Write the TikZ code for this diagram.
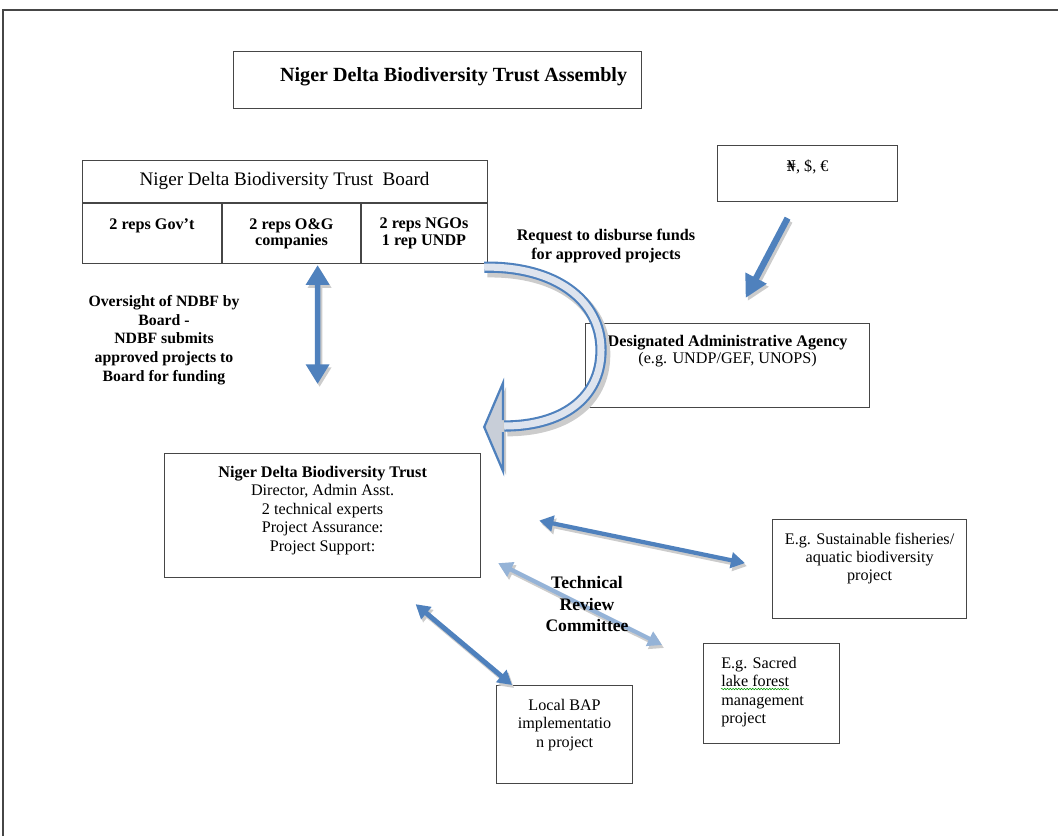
\documentclass[tikz,border=0pt]{standalone}
\usepackage{fontspec}
\setmainfont{Liberation Serif}
\newfontfamily\nairafont{DejaVu Serif}
\usetikzlibrary{arrows.meta,positioning,calc,decorations.pathmorphing}

\definecolor{arrowblue}{RGB}{79,129,189}
\definecolor{lightblue}{RGB}{149,179,215}
\definecolor{bandfill}{RGB}{222,228,238}
\definecolor{headfill}{RGB}{200,206,216}
\definecolor{boxline}{RGB}{70,70,70}
\newcommand\fsz[2]{\fontsize{#1}{#2}\selectfont}

\begin{document}
\begin{tikzpicture}[x=0.025cm,y=-0.025cm,
	box/.style={draw=boxline,line width=0.8pt,inner sep=0pt,rectangle,anchor=north west},
	txt/.style={align=center,inner sep=0pt,font=\fsz{11.5}{13.1}},
	btxt/.style={txt,font=\fsz{11.2}{13.3}\bfseries},
	dbl/.style={draw=arrowblue,line width=3pt,{Triangle[length=10pt,width=11pt]}-{Triangle[length=10pt,width=11pt]}},
	vdbl/.style={dbl,line width=4pt,{Triangle[length=14pt,width=16pt]}-{Triangle[length=14pt,width=16pt]}},
	lightdbl/.style={dbl,draw=lightblue},
	arrshadow/.style={draw=black!20,transform canvas={shift={(2,3)}}}]
	\useasboundingbox (0,0) rectangle (1058,836);
	% page frame
	\draw[boxline,line width=1.3pt] (3,836) -- (3,10) -- (1058,10);

	% boxes
	\node[box,minimum width=10.2cm,minimum height=1.425cm] (assembly) at (233,51) {};
	\node[btxt,font=\fsz{14.3}{16}\bfseries,below=0.4cm of assembly.north,xshift=0.4cm] (assemblyt) {Niger Delta Biodiversity Trust Assembly};

	\node[box,minimum width=10.125cm,minimum height=2.575cm] (board) at (82,160) {};
	\draw[boxline,line width=0.8pt] (82,203) -- (487,203);
	\draw[boxline,line width=0.8pt] (222,203) -- (222,263);
	\draw[boxline,line width=0.8pt] (361,203) -- (361,263);
	\node[txt,font=\fsz{13.6}{15}] (boardt) at (284.5,181) {Niger Delta Biodiversity Trust\ \ Board};
	\node[btxt,font=\fsz{11.5}{11.8}\bfseries,anchor=north] (gov) at (152,218) {2 reps Gov't};
	\node[btxt,font=\fsz{11.5}{11.8}\bfseries,anchor=north] (oag) at (291.5,218) {2 reps O\&G\\companies};
	\node[btxt,font=\fsz{11.5}{11.8}\bfseries,anchor=north] (ngo) at (424,218) {2 reps NGOs\\1 rep UNDP};

	\node[box,minimum width=4.5cm,minimum height=1.4cm] (money) at (717,145) {};
	\node[txt,below=0.375cm of money.north] (moneyt) {{\nairafont\fontsize{10.5}{12}\selectfont ₦}, \$, €};

	\node[box,minimum width=7.1cm,minimum height=2.1cm] (agency) at (585,323) {};
	\node[txt,font=\fsz{11.5}{12.2},below=0.3cm of agency.north] (agencyt) {\textbf{Designated Administrative Agency}\\(e.g. UNDP/GEF, UNOPS)};

	\node[box,minimum width=7.9cm,minimum height=3.1cm] (trust) at (164,453) {};
	\node[txt,below=0.325cm of trust.north] (trustt) {\textbf{Niger Delta Biodiversity Trust}\\Director, Admin Asst.\\2 technical experts\\Project Assurance:\\Project Support:};

	\node[box,minimum width=4.85cm,minimum height=2.475cm] (fish) at (772,519) {};
	\node[txt,font=\fsz{11.5}{12.8},below=0.35cm of fish.north] (fisht) {E.g. Sustainable fisheries/\\aquatic biodiversity\\project};

	\node[box,minimum width=3.4cm,minimum height=2.5cm] (sacred) at (703,643) {};
	\node[txt,align=left,font=\fsz{11.5}{13},below right=0.35cm and 0.45cm of sacred.north west] (sacredt) {E.g. Sacred\\lake forest\\management\\project};
	\draw[green!60!black,line width=0.4pt,decorate,decoration={snake,amplitude=0.5pt,segment length=2pt}] (721,689) -- (789,689);

	\node[box,minimum width=3.4cm,minimum height=2.45cm] (bap) at (496,685) {};
	\node[txt,below=0.35cm of bap.north] (bapt) {Local BAP\\implementatio\\n project};

	% arrow ends
	\coordinate (ovT) at ($(board.south)+(32.5,1)$);
	\coordinate (ovB) at ($(trust.north)+(-5,-69)$);
	\coordinate (mA) at ($(money.south)+(-20,16)$);
	\coordinate (mB) at ($(agency.north)+(18,-25)$);
	\coordinate (cA) at ($(board.south east)+(-4,3)$);
	\coordinate (cB) at ($(trust.north east)+(23,-27)$);
	\coordinate (cT) at ($(trust.north east)+(3,-26)$);
	\coordinate (tsA) at ($(trust.east)+(58,5)$);
	\coordinate (tsB) at ($(fish.west)+(-27,-6)$);
	\coordinate (tlA) at ($(trust.south east)+(17,-15)$);
	\coordinate (tlB) at ($(sacred.north west)+(-41,2)$);
	\coordinate (tbA) at ($(trust.south)+(93,26)$);
	\coordinate (tbB) at ($(bap.north west)+(16,0)$);

	% curved arrow to the trust
	\draw[black!20,line width=9pt,transform canvas={shift={(3,4)}}] (cA) .. controls (555,266) and (601,300) .. (601,350) .. controls (601,400) and (560,426) .. (cB);
	\fill[black!20,transform canvas={shift={(3,4)}}] (503,383) -- (cT) -- (503,471) -- cycle;
	\draw[arrowblue,line width=8pt] (cA) .. controls (555,266) and (601,300) .. (601,350) .. controls (601,400) and (560,426) .. (cB);
	\draw[bandfill,line width=5pt] (cA) .. controls (555,266) and (601,300) .. (601,350) .. controls (601,400) and (560,426) .. (cB);
	\fill[headfill] (503,383) -- (cT) -- (503,471) -- cycle;
	\draw[arrowblue,line width=1.6pt,line join=miter] (503,420) -- (503,383) -- (cT) -- (503,471) -- (503,432);

	% straight arrows
	\draw[vdbl,arrshadow] (ovT) -- (ovB);
	\draw[vdbl] (ovT) -- (ovB);
	\draw[arrshadow,line width=4.5pt,-{Triangle[length=16pt,width=16pt]}] (mA) -- (mB);
	\draw[draw=arrowblue,line width=4.5pt,-{Triangle[length=16pt,width=16pt]}] (mA) -- (mB);
	\draw[dbl,arrshadow] (tsA) -- (tsB);
	\draw[dbl] (tsA) -- (tsB);
	\draw[lightdbl,arrshadow] (tlA) -- (tlB);
	\draw[lightdbl] (tlA) -- (tlB);
	\draw[dbl,line width=3.5pt,arrshadow] (tbA) -- (tbB);
	\draw[dbl,line width=3.5pt] (tbA) -- (tbB);

	% free labels
	\node[btxt,font=\fsz{11.5}{14}\bfseries] (request) at (606,246) {Request to disburse funds\\for approved projects};
	\node[btxt] (oversight) at (164,340) {Oversight of NDBF by\\Board -\\NDBF submits\\approved projects to\\Board for funding};
	\node[btxt,font=\fsz{12.5}{15.6}\bfseries] (review) at (587,604) {Technical\\Review\\Committee};
\end{tikzpicture}
\end{document}
